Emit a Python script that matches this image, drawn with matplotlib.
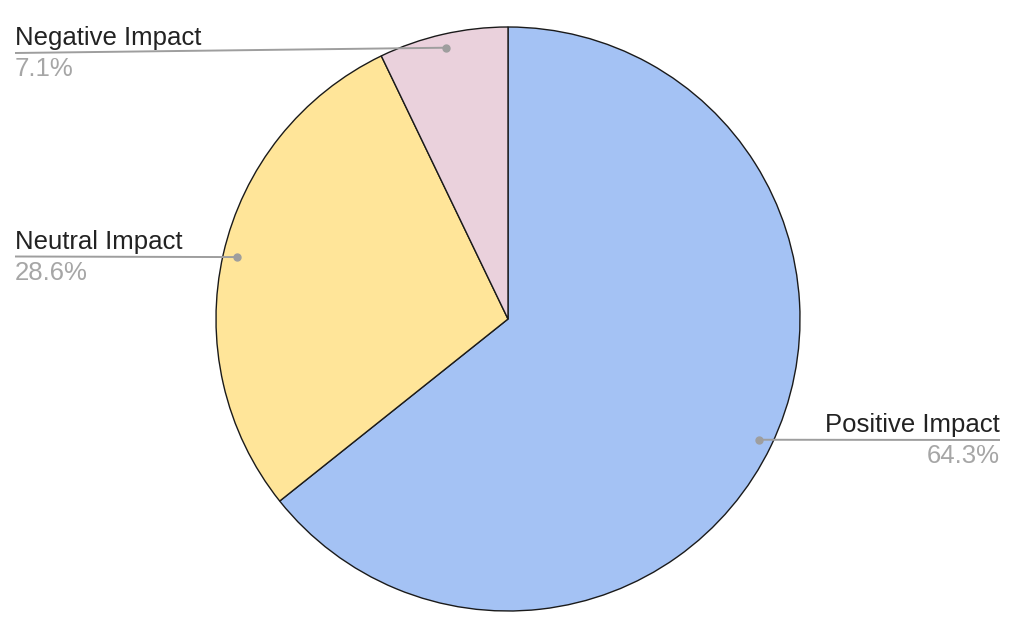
import matplotlib
matplotlib.use("Agg")
import matplotlib.pyplot as plt
import numpy as np

categories = ["Positive Impact", "Neutral Impact", "Negative Impact"]
values = [9, 4, 1]
colors = ["#a4c2f4", "#ffe599", "#ead1dc"]

W, H = 1019, 627
fig = plt.figure(figsize=(W / 100, H / 100), dpi=100)
ax = fig.add_axes([0, 0, 1, 1])

cx, cy, R = 508, H - 319, 292
wedges, _ = ax.pie(values, colors=colors, startangle=90, counterclock=False,
                   center=(cx, cy), radius=R, frame=True,
                   wedgeprops=dict(edgecolor="#1a1a1a", linewidth=1.0))
ax.set_xlim(0, W)
ax.set_ylim(0, H)
ax.axis("off")

total = sum(values)
pcts = [f"{v / total * 100:.1f}%" for v in values]

# label anchor: (text x, line y at text end, alignment)
anchors = {
    "Positive Impact": (1000, H - 440, "right"),
    "Neutral Impact": (15, H - 256.5, "left"),
    "Negative Impact": (15, H - 53, "left"),
}
font = ["Liberation Sans", "DejaVu Sans"]
for w, cat, pct in zip(wedges, categories, pcts):
    mid = np.deg2rad((w.theta1 + w.theta2) / 2)
    px = cx + 0.953 * R * np.cos(mid)
    py = cy + 0.953 * R * np.sin(mid)
    tx, ty, ha = anchors[cat]
    ax.plot([px, tx], [py, ty], color="#9e9e9e", lw=1.4, solid_capstyle="butt", zorder=5)
    ax.plot([px], [py], "o", color="#9e9e9e", ms=5, zorder=6)
    ax.text(tx, ty + 8, cat, ha=ha, va="baseline", fontsize=18.5, color="#222222",
            family=font, zorder=7)
    ax.text(tx, ty - 4, pct, ha=ha, va="top", fontsize=18.5, color="#a6a6a6",
            family=font, zorder=7)

fig.savefig("out.png", dpi=100, facecolor="white")
